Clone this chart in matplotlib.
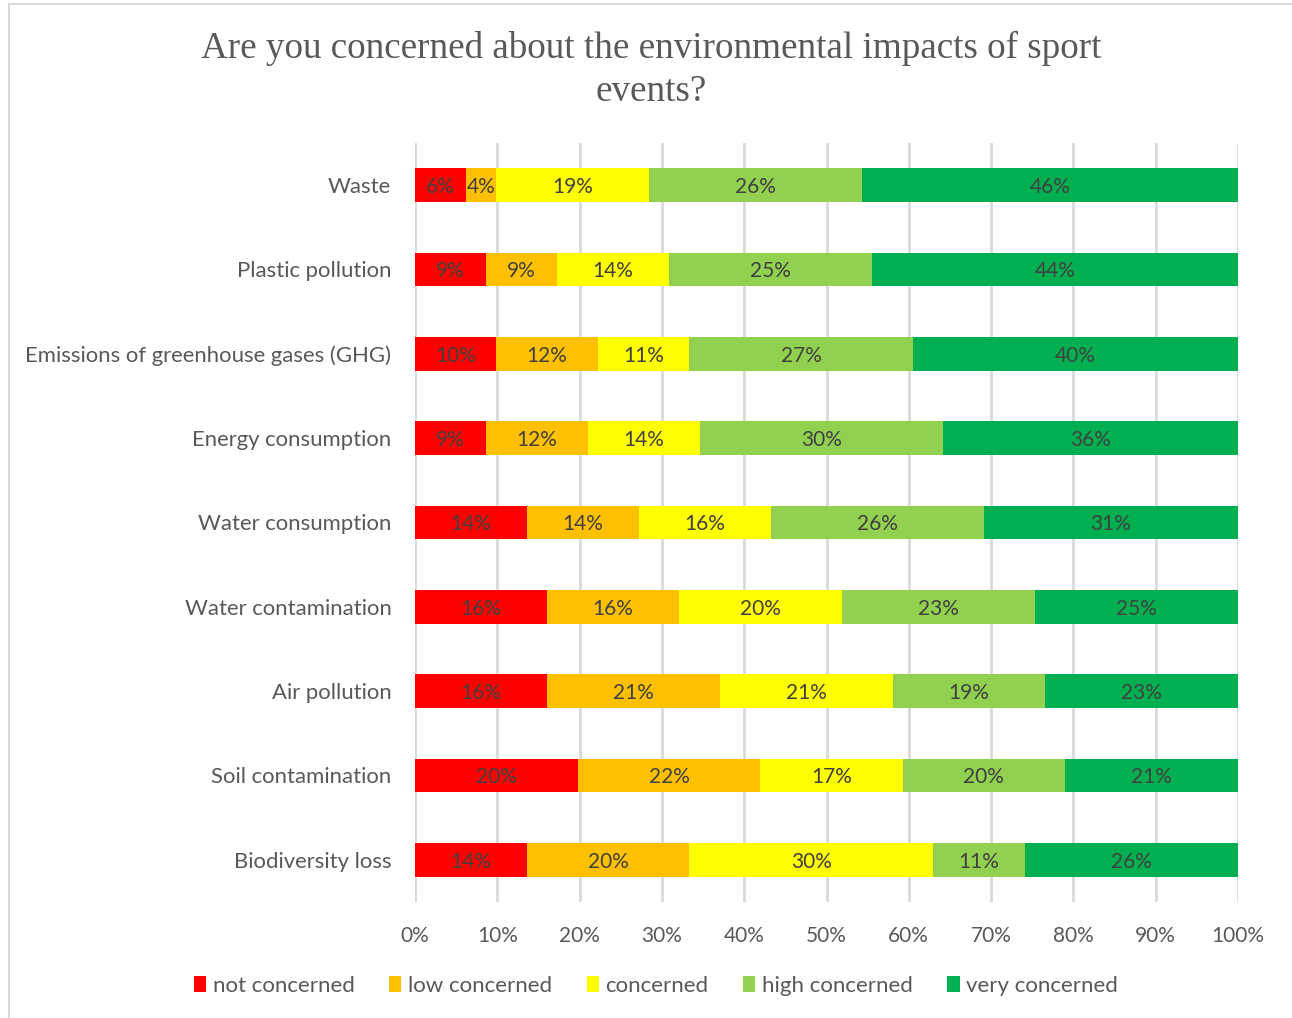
import matplotlib
matplotlib.use("Agg")
import matplotlib.pyplot as plt
from matplotlib.patches import Rectangle

categories = ["Waste", "Plastic pollution", "Emissions of greenhouse gases (GHG)",
              "Energy consumption", "Water consumption", "Water contamination",
              "Air pollution", "Soil contamination", "Biodiversity loss"]
series_names = ["not concerned", "low concerned", "concerned", "high concerned", "very concerned"]
not_concerned = [6.17, 8.64, 9.88, 8.64, 13.58, 16.05, 16.05, 19.75, 13.58]
low_concerned = [3.70, 8.64, 12.35, 12.35, 13.58, 16.05, 20.99, 22.22, 19.75]
concerned = [18.52, 13.58, 11.11, 13.58, 16.05, 19.75, 20.99, 17.28, 29.63]
high_concerned = [25.93, 24.69, 27.16, 29.63, 25.93, 23.46, 18.52, 19.75, 11.11]
very_concerned = [45.68, 44.44, 39.51, 35.80, 30.86, 24.69, 23.46, 20.99, 25.93]
tick_labels = ["0%", "10%", "20%", "30%", "40%", "50%", "60%", "70%", "80%", "90%", "100%"]
title = "Are you concerned about the environmental impacts of sport\nevents?"

colors = ["#FF0000", "#FFC000", "#FFFF00", "#92D050", "#00B050"]
series = [not_concerned, low_concerned, concerned, high_concerned, very_concerned]

lab_font = "Lato"
txt_col = "#595959"

fig = plt.figure(figsize=(12.92, 10.18), dpi=100)
ax = fig.add_axes([415/1292, 1-902/1018, (1238-415)/1292, (902-143)/1018])

# chart border
fig.patches.append(Rectangle((9/1292, -0.01), 1.01, 1-4/1018+0.01, transform=fig.transFigure,
                             fill=False, edgecolor="#D9D9D9", linewidth=1.5))

ypos = list(range(len(categories)))
left = [0.0]*len(categories)
for name, vals, c in zip(series_names, series, colors):
    ax.barh(ypos, vals, left=left, height=0.4, color=c, label=name, zorder=3)
    for y, v, l in zip(ypos, vals, left):
        ax.text(l + v/2, y + 0.02, f"{v:.0f}%", ha="center", va="center", fontsize=15,
                color="#404040", family=lab_font, zorder=4)
    left = [a + b for a, b in zip(left, vals)]

ax.set_xlim(0, 100)
ax.set_ylim(len(categories)-0.5, -0.5)
ax.set_xticks(range(0, 101, 10))
ax.set_xticklabels(tick_labels, family=lab_font, fontsize=15, color=txt_col)
ax.set_yticks(ypos)
ax.set_yticklabels(categories, family=lab_font, fontsize=15.9, color=txt_col)
ax.tick_params(axis="both", length=0)
ax.tick_params(axis="x", pad=17)
ax.tick_params(axis="y", pad=17)
ax.grid(axis="x", color="#D9D9D9", linewidth=2, zorder=0)
for s in ax.spines.values():
    s.set_visible(False)

fig.text(651/1292, 1-70/1018, title, ha="center", va="center", family="Liberation Serif",
         fontsize=26.7, color=txt_col, linespacing=1.3)

fig.legend(loc="center", bbox_to_anchor=(656/1292, 1-986/1018), ncol=5, frameon=False,
           prop={"family": lab_font, "size": 16}, handlelength=0.55, handleheight=0.7,
           handletextpad=0.3, columnspacing=1.55, labelcolor=txt_col)

fig.savefig("out.png", dpi=100)
